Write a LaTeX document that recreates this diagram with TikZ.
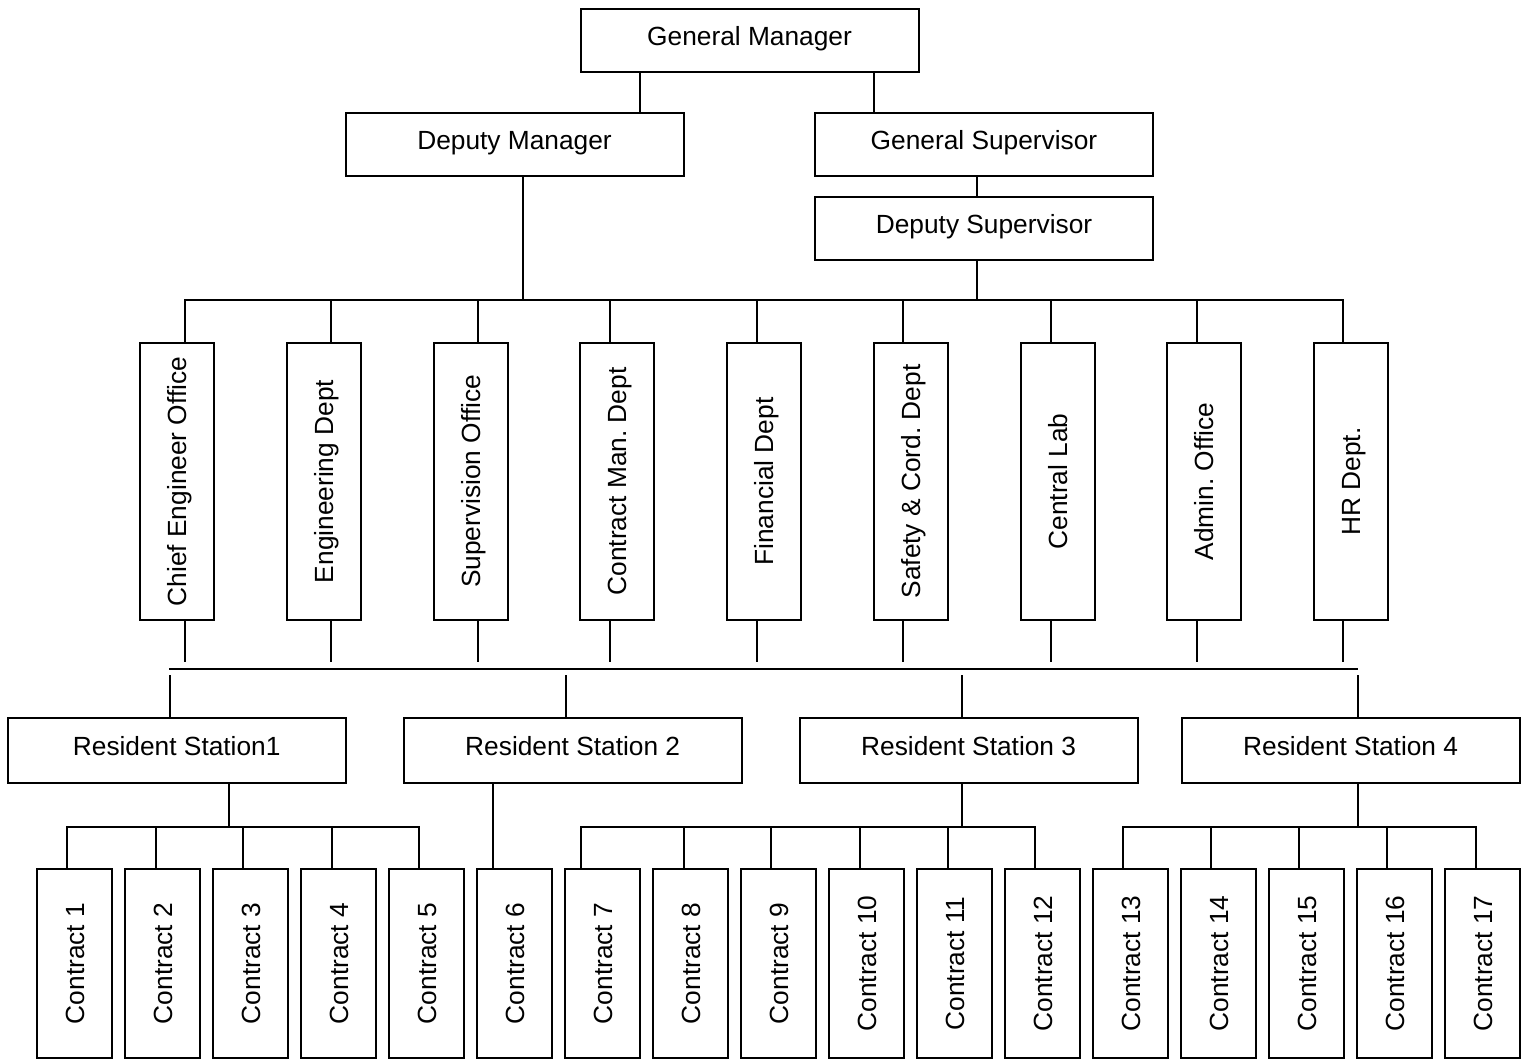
\documentclass[tikz,border=0pt]{standalone}
\usepackage{fontspec}
\setmainfont{Liberation Sans}
\usepackage{graphicx}
% upright-reading label: caps height only, so the letters sit centred in the box
\newcommand{\uptext}[1]{\rotatebox{90}{\raisebox{0pt}[19bp][0pt]{#1}}}

\begin{document}
\begin{tikzpicture}[x=1bp, y=-1bp,
  font=\fontsize{26.3bp}{31bp}\selectfont,
  line width=2bp,
  hbox/.style={draw, minimum width=338bp, minimum height=63bp, inner sep=0pt,
               text height=19bp, text depth=9bp},
  rsbox/.style={hbox, minimum height=65bp},
  deptbox/.style={draw, minimum width=74bp, minimum height=277bp, inner sep=0pt},
  contractbox/.style={draw, minimum width=74.5bp, minimum height=189bp, inner sep=0pt},
  bar/.style={line cap=rect}]
\useasboundingbox (0,0) rectangle (1526,1059);

% management
\node[hbox] (gm) at (749.5,40)  {General Manager};
\node[hbox] (dm) at (514.5,144.5) {Deputy Manager};
\node[hbox] (gs) at (984,144.5)   {General Supervisor};
\node[hbox] (ds) at (984,228.5)   {Deputy Supervisor};

\draw (640,0 |- gm.south) -- (640,0 |- dm.north);
\draw (874,0 |- gm.south) -- (874,0 |- gs.north);
\draw (977,0 |- gs.south) -- (977,0 |- ds.north);

% upper bus feeding the departments
\coordinate (busU) at (0,300);
\draw (522.5,0 |- dm.south) -- (522.5,0 |- busU);
\draw (977,0 |- ds.south) -- (977,0 |- busU);
\draw[bar] (184.7,0 |- busU) -- (1343.4,0 |- busU);

% departments
\coordinate (stub) at (0,662);
\foreach \n/\cx/\lx/\t in {
  1/177/184.7/Chief Engineer Office,
  2/324.4/331/Engineering Dept,
  3/471.3/477.6/Supervision Office,
  4/617/609.7/Contract Man.\ Dept,
  5/763.7/756.6/Financial Dept,
  6/910.5/903.3/Safety \& Cord.\ Dept,
  7/1057.9/1050.6/Central Lab,
  8/1204.3/1197/Admin.\ Office,
  9/1351/1343.4/HR Dept.}{
  \node[deptbox] (d\n) at (\cx,481.5) {\uptext{\t}};
  \draw (\lx,0 |- busU) -- (\lx,0 |- d\n.north);
  \draw (\lx,0 |- d\n.south) -- (\lx,0 |- stub);
}

% lower bus and resident stations
\coordinate (busL) at (169,669);
\coordinate (busR) at (1358,669);
\draw (busL) -- (busR);
\coordinate (drop) at (0,675);

\node[rsbox] (rs1) at (176.7,750.5)  {Resident Station1};
\node[rsbox] (rs2) at (572.7,750.5)  {Resident Station 2};
\node[rsbox] (rs3) at (968.6,750.5)  {Resident Station 3};
\node[rsbox] (rs4) at (1350.6,750.5) {Resident Station 4};

\foreach \lx/\r in {170/rs1, 566/rs2, 962/rs3, 1358/rs4}
  \draw (\lx,0 |- drop) -- (\lx,0 |- \r.north);

% contracts
\foreach \k in {1,...,17}
  \node[contractbox] (c\k) at ({74.55+88*(\k-1)},963.5) {\uptext{Contract \k}};

\coordinate (sub) at (0,826.7);
\draw (228.8,0 |- rs1.south) -- (228.8,0 |- sub);
\draw (962,0 |- rs3.south)   -- (962,0 |- sub);
\draw (1358,0 |- rs4.south)  -- (1358,0 |- sub);
\draw[bar] (67,0 |- sub)    -- (419.3,0 |- sub);
\draw[bar] (580.7,0 |- sub) -- (1035,0 |- sub);
\draw[bar] (1123,0 |- sub)  -- (1475.7,0 |- sub);
\draw (493,0 |- rs2.south) -- (493,0 |- c6.north);

\foreach \k/\lx in {1/67, 2/155.6, 3/243.3, 4/331.6, 5/419.3,
                    7/580.7, 8/683.5, 9/771.2, 10/859.7, 11/947.6, 12/1035,
                    13/1123, 14/1211, 15/1299.3, 16/1387.3, 17/1475.7}
  \draw (\lx,0 |- sub) -- (\lx,0 |- c\k.north);
\end{tikzpicture}
\end{document}
